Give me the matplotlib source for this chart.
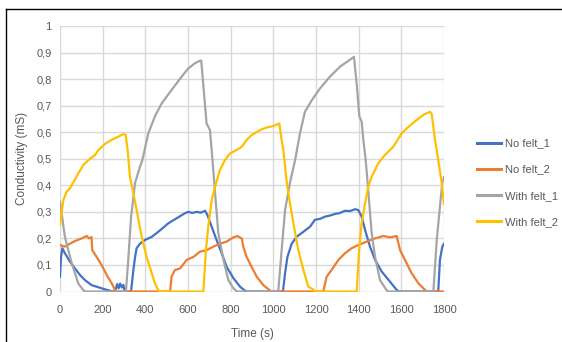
import numpy as np
import matplotlib.pyplot as plt
from matplotlib.lines import Line2D

plt.rcParams['font.family'] = ['Liberation Sans', 'DejaVu Sans']

# values (time s, conductivity mS)
t_nofelt1 = [0, 5, 11, 23, 47, 70, 94, 117, 148, 180, 211, 234, 250, 262, 268, 275, 282, 290, 297, 303,
             333, 344, 352, 359, 375, 398, 430, 461, 508, 547, 586, 601, 620, 641, 660, 680, 691, 711, 734,
             758, 781, 813, 844, 867, 880, 1045, 1055, 1066, 1086, 1109, 1141, 1172, 1195, 1220, 1242, 1265,
             1289, 1310, 1336, 1360, 1383, 1398, 1414, 1430, 1453, 1477, 1508, 1547, 1578, 1590, 1773, 1781,
             1792, 1800]
v_nofelt1 = [0.056, 0.13, 0.163, 0.144, 0.112, 0.087, 0.062, 0.043, 0.024, 0.016, 0.008, 0.003, 0.0, 0.01,
             0.028, 0.012, 0.03, 0.015, 0.025, 0.0,
             0.0, 0.081, 0.13, 0.163, 0.18, 0.194, 0.206, 0.225, 0.257, 0.276, 0.295, 0.30, 0.296, 0.30,
             0.297, 0.304, 0.288, 0.244, 0.194, 0.144, 0.093, 0.05, 0.018, 0.003, 0.0, 0.0, 0.069, 0.13,
             0.18, 0.206, 0.225, 0.244, 0.27, 0.274, 0.282, 0.286, 0.292, 0.295, 0.304, 0.303, 0.31, 0.307,
             0.282, 0.232, 0.169, 0.119, 0.075, 0.037, 0.006, 0.0, 0.0, 0.119, 0.169, 0.18]

t_nofelt2 = [0, 23, 47, 70, 102, 125, 136, 148, 151, 172, 195, 219, 242, 258, 265, 516, 523, 539, 563,
             594, 625, 656, 688, 719, 750, 781, 813, 831, 852, 859, 875, 898, 922, 953, 981, 990, 1234,
             1250, 1273, 1305, 1336, 1367, 1398, 1438, 1477, 1516, 1547, 1578, 1594, 1617, 1648, 1680,
             1711, 1720, 1800]
v_nofelt2 = [0.175, 0.169, 0.18, 0.19, 0.20, 0.209, 0.20, 0.205, 0.156, 0.13, 0.10, 0.062, 0.031, 0.006,
             0.0, 0.0, 0.056, 0.081, 0.087, 0.119, 0.13, 0.15, 0.156, 0.169, 0.18, 0.188, 0.204, 0.209,
             0.20, 0.169, 0.13, 0.093, 0.056, 0.024, 0.006, 0.0, 0.0, 0.056, 0.081, 0.119, 0.144, 0.163,
             0.175, 0.188, 0.20, 0.209, 0.204, 0.209, 0.156, 0.119, 0.069, 0.031, 0.006, 0.0, 0.0]

t_withfelt1 = [0, 23, 55, 86, 109, 120, 309, 320, 333, 352, 375, 386, 414, 445, 477, 523, 570, 601, 633,
               656, 662, 680, 687, 703, 711, 727, 742, 766, 789, 813, 830, 1023, 1039, 1055, 1078, 1102,
               1125, 1148, 1180, 1219, 1266, 1313, 1352, 1378, 1391, 1403, 1414, 1422, 1433, 1445, 1461,
               1477, 1500, 1531, 1540, 1750, 1766, 1781, 1792, 1800]
v_withfelt1 = [0.338, 0.206, 0.106, 0.03, 0.005, 0.0, 0.0, 0.12, 0.28, 0.41, 0.47, 0.495, 0.596, 0.66,
               0.709, 0.759, 0.809, 0.84, 0.86, 0.869, 0.87, 0.70, 0.633, 0.608, 0.533, 0.37, 0.22, 0.12,
               0.043, 0.012, 0.0, 0.0, 0.156, 0.307, 0.41, 0.495, 0.596, 0.677, 0.72, 0.765, 0.81, 0.847,
               0.869, 0.884, 0.78, 0.66, 0.64, 0.57, 0.495, 0.38, 0.22, 0.13, 0.043, 0.005, 0.0, 0.0,
               0.194, 0.32, 0.41, 0.43]

t_withfelt2 = [0, 16, 31, 47, 62, 86, 109, 133, 164, 180, 211, 242, 273, 297, 308, 317, 328, 344, 359,
               383, 406, 430, 445, 461, 470, 672, 684, 695, 711, 727, 750, 773, 797, 828, 852, 875, 898,
               938, 969, 1000, 1028, 1039, 1047, 1063, 1078, 1094, 1117, 1141, 1164, 1187, 1195, 1391,
               1402, 1414, 1430, 1445, 1461, 1492, 1523, 1547, 1562, 1602, 1633, 1672, 1703, 1734, 1742,
               1758, 1773, 1789, 1800]
v_withfelt2 = [0.25, 0.345, 0.376, 0.389, 0.41, 0.445, 0.476, 0.495, 0.514, 0.533, 0.556, 0.571, 0.583,
               0.593, 0.59, 0.533, 0.43, 0.37, 0.307, 0.206, 0.13, 0.069, 0.031, 0.005, 0.0, 0.0, 0.156,
               0.244, 0.345, 0.395, 0.458, 0.495, 0.52, 0.533, 0.545, 0.571, 0.589, 0.608, 0.618, 0.623,
               0.633, 0.57, 0.533, 0.41, 0.332, 0.257, 0.156, 0.081, 0.018, 0.008, 0.0, 0.0, 0.156, 0.257,
               0.332, 0.395, 0.432, 0.483, 0.514, 0.533, 0.545, 0.596, 0.62, 0.646, 0.665, 0.677, 0.67,
               0.57, 0.495, 0.41, 0.33]

series = [
    ("No felt_1", t_nofelt1, v_nofelt1, "#4472C4"),
    ("No felt_2", t_nofelt2, v_nofelt2, "#ED7D31"),
    ("With felt_1", t_withfelt1, v_withfelt1, "#A5A5A5"),
    ("With felt_2", t_withfelt2, v_withfelt2, "#FFC000"),
]

xticks = [0, 200, 400, 600, 800, 1000, 1200, 1400, 1600, 1800]
yticks = [0, 0.1, 0.2, 0.3, 0.4, 0.5, 0.6, 0.7, 0.8, 0.9, 1]
ylabels = ["0", "0,1", "0,2", "0,3", "0,4", "0,5", "0,6", "0,7", "0,8", "0,9", "1"]

fig = plt.figure(figsize=(5.62, 3.42), dpi=100)
ax = fig.add_axes([60 / 562, 50.5 / 342, 384 / 562, 265.5 / 342])

for name, t, v, c in series:
    ax.plot(t, v, color=c, lw=1.6, label=name, solid_joinstyle='round')

ax.set_xlim(0, 1800)
ax.set_ylim(0, 1)
ax.set_xticks(xticks)
ax.set_yticks(yticks)
ax.set_yticklabels(ylabels)
ax.grid(True, color='#d9d9d9', lw=1)
ax.set_axisbelow(True)
for s in ax.spines.values():
    s.set_visible(False)
ax.tick_params(length=0, labelsize=8, colors='#595959')
ax.tick_params(axis='y', pad=6)
ax.tick_params(axis='x', pad=10)
ax.set_xlabel("Time (s)", fontsize=8.5, color='#595959', labelpad=9)
ax.set_ylabel("Conductivity (mS)", fontsize=8.5, color='#595959', labelpad=6)

leg = ax.legend(loc='center left', bbox_to_anchor=(1.06, 0.41), frameon=False, fontsize=8,
                handlelength=2.2, labelspacing=1.45, handletextpad=0.3)
for txt in leg.get_texts():
    txt.set_color('#595959')
for h in leg.legend_handles:
    h.set_linewidth(2.2)

# outer frame from the page
fig.add_artist(Line2D([6 / 562, 1], [1 - 9 / 342, 1 - 9 / 342], color='black', lw=1))
fig.add_artist(Line2D([6 / 562, 6 / 562], [0, 1 - 9 / 342], color='black', lw=1))

fig.savefig("out.png", dpi=100)
